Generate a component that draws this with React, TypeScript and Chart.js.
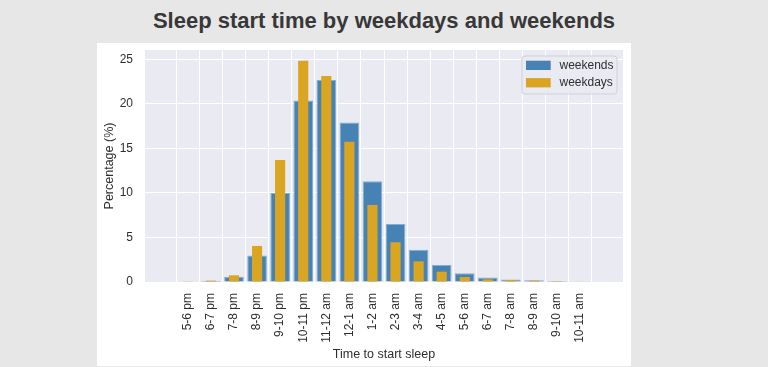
import React, { useEffect, useRef } from "react";
import { Chart, registerables } from "chart.js";

Chart.register(...registerables);

const categories = [
  "5-6 pm", "6-7 pm", "7-8 pm", "8-9 pm", "9-10 pm", "10-11 pm",
  "11-12 am", "12-1 am", "1-2 am", "2-3 am", "3-4 am", "4-5 am",
  "5-6 am", "6-7 am", "7-8 am", "8-9 am", "9-10 am", "10-11 am",
];
const weekends = [0.05, 0.15, 0.58, 2.97, 9.98, 20.38, 22.67, 17.9, 11.3, 6.5, 3.63, 1.9, 0.98, 0.5, 0.28, 0.2, 0.1, 0.08];
const weekdays = [0.03, 0.15, 0.75, 4.05, 13.7, 24.85, 23.13, 15.76, 8.65, 4.46, 2.32, 1.16, 0.56, 0.3, 0.2, 0.15, 0.1, 0.05];
const yTicks = [0, 5, 10, 15, 20, 25];
const seriesNames = ["weekends", "weekdays"];
const seriesColors = ["#4682b4", "#daa520"];

const FONT = '"Liberation Sans", Arial, Helvetica, sans-serif';
const TEXT = "#2e2e2e";

const bgPlugin = {
  id: "plotBg",
  beforeDraw(chart: any) {
    const { ctx, chartArea: a } = chart;
    ctx.save();
    ctx.fillStyle = "#eaeaf2";
    ctx.fillRect(a.left, a.top, a.right - a.left, a.bottom - a.top);
    ctx.restore();
  },
};

const legendPlugin = {
  id: "boxLegend",
  afterDraw(chart: any) {
    const { ctx, chartArea: a } = chart;
    const w = 95, h = 38;
    const x = a.right - 6 - w;
    const y = a.top + 6;
    ctx.save();
    ctx.beginPath();
    const r = 3;
    ctx.moveTo(x + r, y);
    ctx.arcTo(x + w, y, x + w, y + h, r);
    ctx.arcTo(x + w, y + h, x, y + h, r);
    ctx.arcTo(x, y + h, x, y, r);
    ctx.arcTo(x, y, x + w, y, r);
    ctx.closePath();
    ctx.fillStyle = "rgba(234,234,242,0.85)";
    ctx.fill();
    ctx.strokeStyle = "#d0d0d6";
    ctx.lineWidth = 1;
    ctx.stroke();
    ctx.font = `12px ${FONT}`;
    ctx.textBaseline = "middle";
    ctx.textAlign = "left";
    seriesNames.forEach((name, i) => {
      const rowY = y + 9.3 + i * 17.4;
      ctx.fillStyle = seriesColors[i];
      ctx.fillRect(x + 4, rowY - 4.6, 24.7, 9.3);
      ctx.fillStyle = TEXT;
      ctx.fillText(name, x + 37.5, rowY);
    });
    ctx.restore();
  },
};

export default function App() {
  const ref = useRef<HTMLCanvasElement | null>(null);

  useEffect(() => {
    if (!ref.current) return;
    const tickFont = { family: FONT, size: 12 };
    const titleFont = { family: FONT, size: 12.5 };
    const chart = new Chart(ref.current, {
      type: "bar",
      data: {
        datasets: [
          {
            label: seriesNames[0],
            data: weekends.map((v, i) => ({ x: i, y: v })),
            backgroundColor: seriesColors[0],
            borderColor: "#86aed0",
            borderWidth: { top: 1, left: 1, right: 1, bottom: 0 },
            borderSkipped: false,
            barPercentage: 0.85,
            categoryPercentage: 1,
            grouped: false,
            order: 2,
          },
          {
            label: seriesNames[1],
            data: weekdays.map((v, i) => ({ x: i, y: v })),
            backgroundColor: seriesColors[1],
            borderWidth: 0,
            barPercentage: 0.44,
            categoryPercentage: 1,
            grouped: false,
            order: 1,
          },
        ] as any,
      },
      options: {
        animation: false,
        responsive: false,
        maintainAspectRatio: false,
        devicePixelRatio: 1,
        layout: { padding: { top: 7, right: 8, left: 0, bottom: 0 } },
        plugins: {
          legend: { display: false },
          tooltip: { enabled: false },
        },
        scales: {
          x: {
            type: "linear",
            min: -1.28,
            max: 18.28,
            afterBuildTicks: (s: any) => {
              s.ticks = categories.map((_, i) => ({ value: i }));
            },
            afterFit: (s: any) => {
              s.height = 84;
            },
            ticks: {
              autoSkip: false,
              maxRotation: 90,
              minRotation: 90,
              padding: 11,
              font: tickFont,
              color: TEXT,
              callback: (v: any) => categories[Math.round(Number(v))] ?? "",
            },
            grid: { color: "#ffffff", lineWidth: 1, drawTicks: false },
            border: { display: false },
            title: {
              display: true,
              text: "Time to start sleep",
              font: titleFont,
              color: TEXT,
              padding: { top: 0, bottom: 4 },
            },
          },
          y: {
            type: "linear",
            min: 0,
            max: 26.05,
            afterBuildTicks: (s: any) => {
              s.ticks = yTicks.map((v) => ({ value: v }));
            },
            afterFit: (s: any) => {
              s.width = 48;
              s.paddingTop = 0;
              s.paddingBottom = 0;
            },
            ticks: { padding: 12, font: tickFont, color: TEXT },
            grid: { color: "#ffffff", lineWidth: 1, drawTicks: false },
            border: { display: false },
            title: {
              display: true,
              text: "Percentage (%)",
              font: titleFont,
              color: TEXT,
              padding: { top: 5.5, bottom: 0 },
            },
          },
        } as any,
      },
      plugins: [bgPlugin, legendPlugin],
    });
    return () => chart.destroy();
  }, []);

  return (
    <div
      style={{
        position: "fixed",
        inset: 0,
        background: "#e7e7e7",
        fontFamily: FONT,
      }}
    >
      <div
        style={{
          position: "absolute",
          left: 0,
          top: 8,
          width: 768,
          textAlign: "center",
          fontSize: 22,
          fontWeight: "bold",
          lineHeight: "26px",
          color: "#383838",
          whiteSpace: "nowrap",
        }}
      >
        Sleep start time by weekdays and weekends
      </div>
      <div
        style={{
          position: "absolute",
          left: 97,
          top: 43,
          width: 534,
          height: 323,
          background: "#ffffff",
        }}
      >
        <canvas
          ref={ref}
          width={534}
          height={323}
          style={{ display: "block", width: 534, height: 323 }}
        />
      </div>
    </div>
  );
}
